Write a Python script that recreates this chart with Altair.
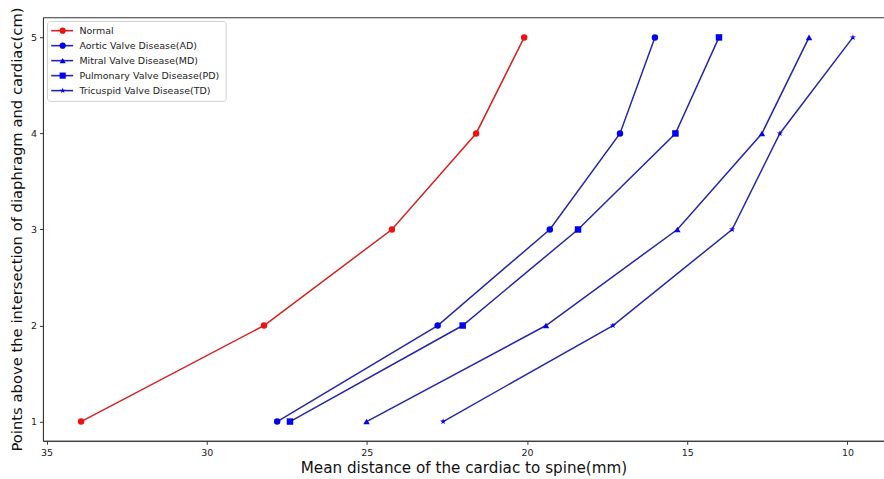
import altair as alt
import pandas as pd

levels = [1, 2, 3, 4, 5]
series_names = [
    "Normal",
    "Aortic Valve Disease(AD)",
    "Mitral Valve Disease(MD)",
    "Pulmonary Valve Disease(PD)",
    "Tricuspid Valve Disease(TD)",
]
series_codes = ["N", "AD", "MD", "PD", "TD"]
normal = [33.92, 28.21, 24.22, 21.59, 20.09]
ad = [27.80, 22.79, 19.29, 17.10, 16.01]
md = [25.01, 19.41, 15.31, 12.67, 11.20]
pdv = [27.40, 22.01, 18.41, 15.37, 14.01]
td = [22.62, 17.32, 13.60, 12.11, 9.83]

line_colors = ["#d42222", "#2626a8", "#2626a8", "#2626a8", "#2626a8"]
marker_colors = ["#ee1111", "#0000ee", "#0000ee", "#0000ee", "#0000ee"]
STAR = ("M0,-1L0.2245,-0.309L0.951,-0.309L0.363,0.118L0.588,0.809L0,0.382"
        "L-0.588,0.809L-0.363,0.118L-0.951,-0.309L-0.2245,-0.309Z")
shapes = ["circle", "circle", "triangle-up", "square", STAR]
LEGEND_LINE = "M-4,0H4"

rows = []
for name, code, vals in zip(series_names, series_codes, [normal, ad, md, pdv, td]):
    for lv, v in zip(levels, vals):
        rows.append({"series": name, "code": code, "dist": v, "level": lv})
df = pd.DataFrame(rows)

FONT = "DejaVu Sans"
LEG_FONT = 9.5

code_to_name = "{" + ",".join(f"'{c}':'{n}'" for c, n in zip(series_codes, series_names)) + "}"

x_enc = alt.X(
    "dist:Q",
    scale=alt.Scale(domain=[8.86, 35.11], reverse=True, nice=False, zero=False),
    axis=alt.Axis(
        values=[35, 30, 25, 20, 15, 10], format="d", grid=False,
        title="Mean distance of the cardiac to spine(mm)",
        titleFontSize=15.2, titleFontWeight="normal", titleColor="#111",
        titlePadding=4, labelFontSize=9.5, labelColor="#222",
        tickSize=3.5, tickColor="#333", domainColor="#333", labelPadding=3,
    ),
)
y_enc = alt.Y(
    "level:Q",
    scale=alt.Scale(domain=[0.8, 5.21], nice=False, zero=False),
    axis=alt.Axis(
        values=levels, format="d", grid=False,
        title="Points above the intersection of diaphragm and cardiac(cm)",
        titleFontSize=14.8, titleFontWeight="normal", titleColor="#111",
        titlePadding=6, labelFontSize=9.5, labelColor="#222",
        tickSize=3.5, tickColor="#333", domainColor="#333", labelPadding=3,
    ),
)

lines = alt.Chart(df).mark_line(strokeWidth=1.5).encode(
    x=x_enc,
    y=y_enc,
    order="level:Q",
    stroke=alt.Stroke(
        "series:N",
        scale=alt.Scale(domain=series_names, range=line_colors),
        legend=alt.Legend(
            title=None, orient="none", legendX=9.5, legendY=3.7,
            symbolType=LEGEND_LINE, symbolSize=30, symbolStrokeWidth=1.6,
            labelFontSize=LEG_FONT, labelFont=FONT, labelColor="#222",
            rowPadding=4, padding=5, labelOffset=12.5,
        ),
    ),
)

point_legend = alt.Legend(
    title=None, orient="none", legendX=4, legendY=3.7,
    symbolSize=38, symbolOffset=6,
    labelFontSize=LEG_FONT, labelFont=FONT, labelOpacity=0,
    labelExpr=f"{code_to_name}[datum.label]",
    rowPadding=4, padding=5, labelOffset=13,
    strokeColor="#d0d0d0", cornerRadius=3,
)

points = alt.Chart(df).mark_point(filled=True, size=42, opacity=1).encode(
    x=x_enc,
    y=y_enc,
    color=alt.Color(
        "code:N",
        scale=alt.Scale(domain=series_codes, range=marker_colors),
        legend=point_legend,
    ),
    shape=alt.Shape(
        "code:N",
        scale=alt.Scale(domain=series_codes, range=shapes),
        legend=point_legend,
    ),
)

chart = (
    alt.layer(lines, points)
    .properties(
        width=842, height=424,
        autosize=alt.AutoSizeParams(type="none"),
        padding={"left": 43, "top": 17, "right": 0, "bottom": 38},
    )
    .configure(font=FONT)
    .configure_view(stroke="#333", strokeWidth=1)
    .configure_axis(labelFont=FONT, titleFont=FONT)
)

chart.save("out.html", embed_options={"renderer": "svg", "actions": False})
